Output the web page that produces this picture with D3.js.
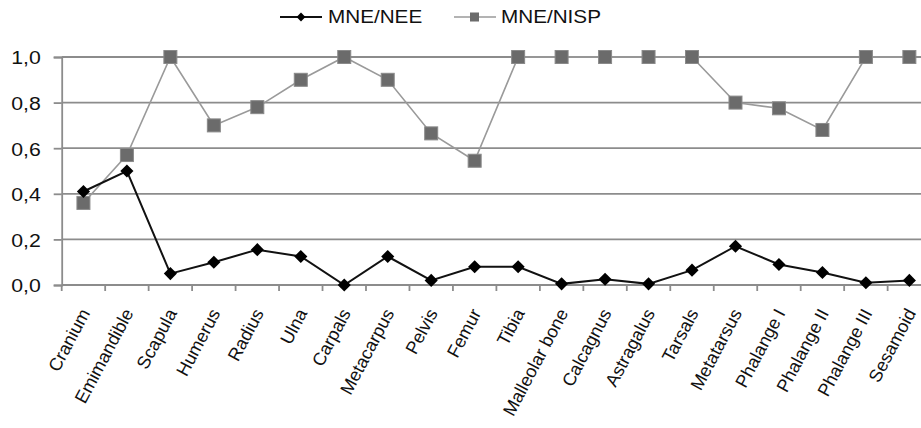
<!DOCTYPE html>
<html><head><meta charset="utf-8">
<script src="https://cdn.jsdelivr.net/npm/d3@7"></script>
<style>
body{margin:0;background:#fff;}
svg text{font-family:"Liberation Sans",Arial,sans-serif;fill:#111;}
</style></head>
<body><svg id="c" width="921" height="428"></svg>
<script>
const categories = ["Cranium","Emimandible","Scapula","Humerus","Radius","Ulna","Carpals","Metacarpus","Pelvis","Femur","Tibia","Malleolar bone","Calcagnus","Astragalus","Tarsals","Metatarsus","Phalange I","Phalange II","Phalange III","Sesamoid"];
const mneNee  = [0.41,0.50,0.05,0.10,0.155,0.125,0.0,0.125,0.02,0.08,0.08,0.005,0.025,0.005,0.065,0.17,0.09,0.055,0.01,0.02];
const mneNisp = [0.36,0.57,1.0,0.70,0.78,0.90,1.0,0.90,0.665,0.545,1.0,1.0,1.0,1.0,1.0,0.80,0.775,0.68,1.0,1.0];
const yTicks = [0,0.2,0.4,0.6,0.8,1.0];
const seriesNames = ["MNE/NEE","MNE/NISP"];

const svg = d3.select("#c");
const x = d3.scaleBand().domain(categories).range([61.7, 931.1]).padding(0);
const y = d3.scaleLinear().domain([0,1]).range([285,57]);
const cx = c => x(c) + x.bandwidth()/2;
const fmt = v => d3.format(".1f")(v).replace(".", ",");

// gridlines
svg.append("g").selectAll("line").data(yTicks).join("line")
  .attr("x1", 61.7).attr("x2", 921).attr("y1", d=>y(d)).attr("y2", d=>y(d))
  .attr("stroke", "#8c8c8c").attr("stroke-width", 1.8);

// y axis
const yAxis = svg.append("g").attr("transform","translate(61.7,0)")
  .call(d3.axisLeft(y).tickValues(yTicks).tickFormat(fmt).tickSize(8).tickPadding(13));
yAxis.select(".domain").attr("stroke","#8c8c8c").attr("stroke-width",1.8);
yAxis.selectAll(".tick line").attr("stroke","#8c8c8c").attr("stroke-width",1.8);
yAxis.selectAll(".tick text").attr("font-size",19).attr("fill","#111")
  .attr("font-family","Liberation Sans, Arial, sans-serif")
  .attr("dy","0.36em")
  .attr("transform","translate(-21,0) scale(1.12,1) translate(21,0)");

// x axis ticks between categories
const bounds = d3.range(categories.length+1).map(i => 61.7 + i*x.bandwidth());
svg.append("g").selectAll("line").data(bounds).join("line")
  .attr("x1", d=>d).attr("x2", d=>d).attr("y1", 285).attr("y2", 291)
  .attr("stroke","#8c8c8c").attr("stroke-width",1.8);

// x labels
svg.append("g").selectAll("text").data(categories).join("text")
  .attr("transform", d => `translate(${cx(d)+7},313) rotate(-62)`)
  .attr("text-anchor","end").attr("font-size",18).text(d=>d);

// NISP series
const line = d3.line().x((d,i)=>cx(categories[i])).y(d=>y(d));
svg.append("path").datum(mneNisp).attr("d", line)
  .attr("fill","none").attr("stroke","#9a9a9a").attr("stroke-width",1.6);
svg.append("g").selectAll("rect").data(mneNisp).join("rect")
  .attr("x",(d,i)=>cx(categories[i])-6.5).attr("y",d=>y(d)-6.5)
  .attr("width",13).attr("height",13)
  .attr("fill","#6b6b6b").attr("stroke","#8a8a8a").attr("stroke-width",1);

// NEE series
svg.append("path").datum(mneNee).attr("d", line)
  .attr("fill","none").attr("stroke","#111").attr("stroke-width",2);
const diamond = d3.symbol().type(d3.symbolDiamond2).size(110);
svg.append("g").selectAll("path").data(mneNee).join("path")
  .attr("d", diamond())
  .attr("transform",(d,i)=>`translate(${cx(categories[i])},${y(d)})`)
  .attr("fill","#000");

// legend
const leg = svg.append("g");
leg.append("line").attr("x1",280).attr("x2",322).attr("y1",17).attr("y2",17).attr("stroke","#111").attr("stroke-width",2);
leg.append("path").attr("d", d3.symbol().type(d3.symbolDiamond2).size(50)()).attr("transform","translate(301,17)").attr("fill","#000");
leg.append("text").attr("x",328).attr("y",17).attr("dy","0.36em").attr("font-size",18)
  .attr("transform","translate(328,0) scale(1.15,1) translate(-328,0)").text(seriesNames[0]);
leg.append("line").attr("x1",454).attr("x2",496).attr("y1",17).attr("y2",17).attr("stroke","#9a9a9a").attr("stroke-width",1.6);
leg.append("rect").attr("x",470).attr("y",12.5).attr("width",9).attr("height",9).attr("fill","#6b6b6b");
leg.append("text").attr("x",501).attr("y",17).attr("dy","0.36em").attr("font-size",18)
  .attr("transform","translate(501,0) scale(1.15,1) translate(-501,0)").text(seriesNames[1]);
</script></body></html>
